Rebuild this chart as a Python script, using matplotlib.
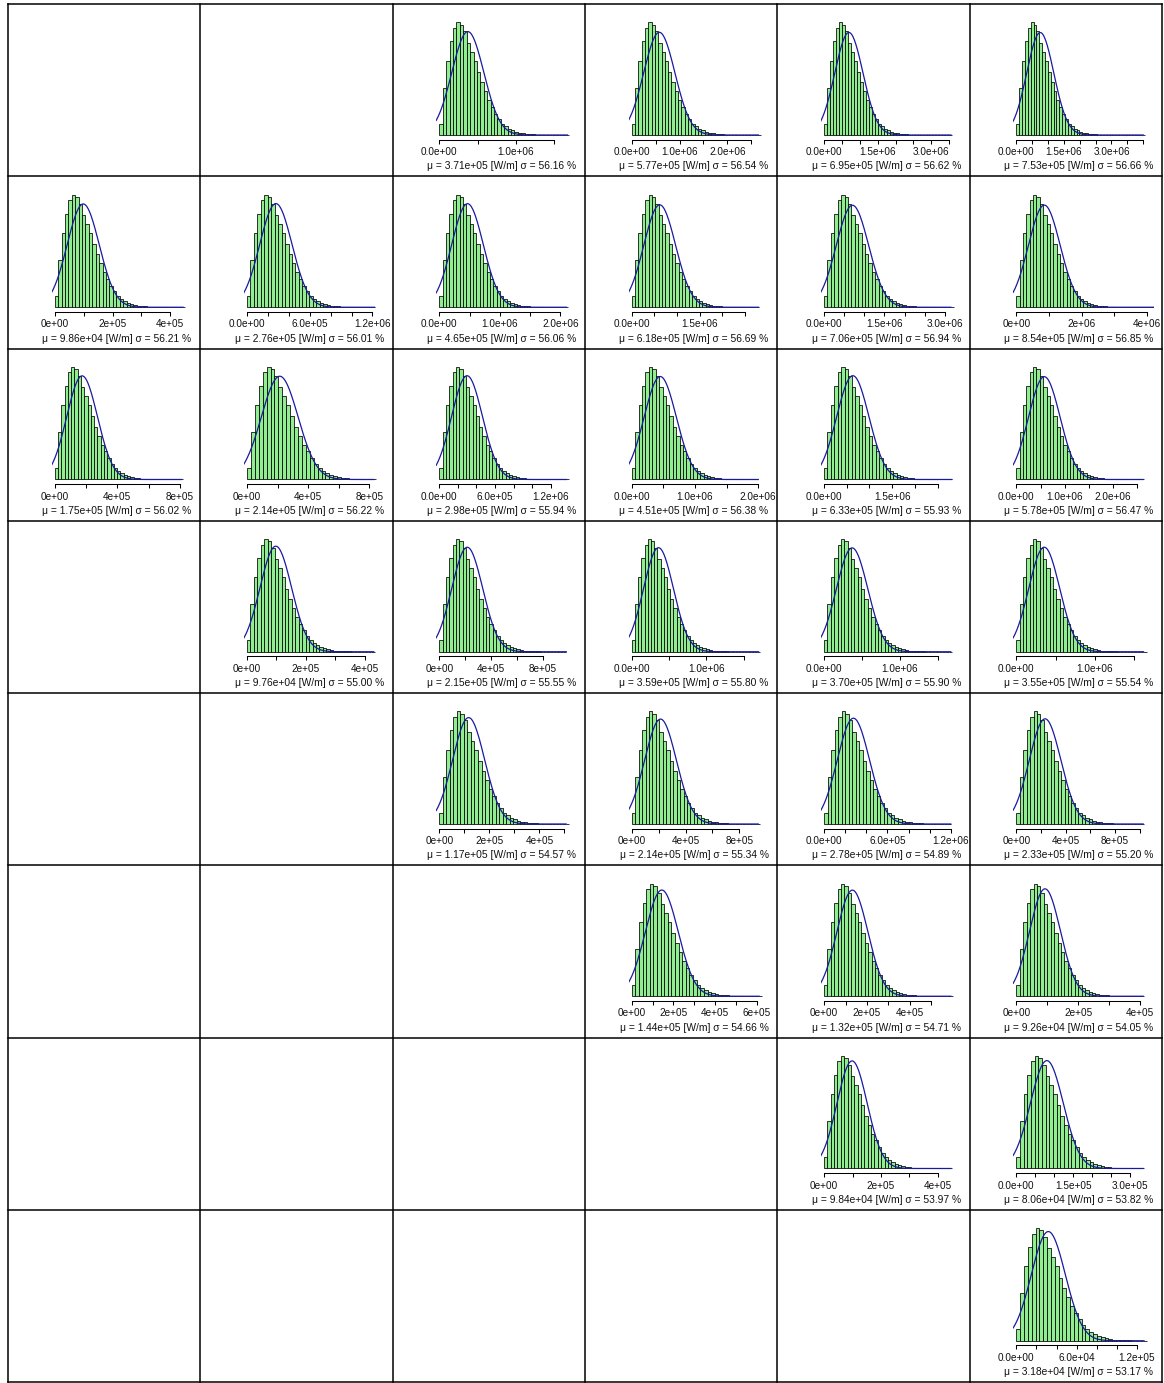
import numpy as np
import matplotlib
matplotlib.use("Agg")
import matplotlib.pyplot as plt
from matplotlib.lines import Line2D

plt.rcParams['font.family'] = ['Liberation Sans', 'DejaVu Sans']

# ---- data ----
panel_row = [0, 0, 0, 0,
             1, 1, 1, 1, 1, 1,
             2, 2, 2, 2, 2, 2,
             3, 3, 3, 3, 3,
             4, 4, 4, 4,
             5, 5, 5,
             6, 6,
             7]
panel_col = [2, 3, 4, 5,
             0, 1, 2, 3, 4, 5,
             0, 1, 2, 3, 4, 5,
             1, 2, 3, 4, 5,
             2, 3, 4, 5,
             3, 4, 5,
             4, 5,
             5]
mu = [3.71e5, 5.77e5, 6.95e5, 7.53e5,
      9.86e4, 2.76e5, 4.65e5, 6.18e5, 7.06e5, 8.54e5,
      1.75e5, 2.14e5, 2.98e5, 4.51e5, 6.33e5, 5.78e5,
      9.76e4, 2.15e5, 3.59e5, 3.70e5, 3.55e5,
      1.17e5, 2.14e5, 2.78e5, 2.33e5,
      1.44e5, 1.32e5, 9.26e4,
      9.84e4, 8.06e4,
      3.18e4]
sigma_pct = [56.16, 56.54, 56.62, 56.66,
             56.21, 56.01, 56.06, 56.69, 56.94, 56.85,
             56.02, 56.22, 55.94, 56.38, 55.93, 56.47,
             55.00, 55.55, 55.80, 55.90, 55.54,
             54.57, 55.34, 54.89, 55.20,
             54.66, 54.71, 54.05,
             53.97, 53.82,
             53.17]
# largest value of each sample (end of histogram and curve)
x_max = [1.67e6, 2.65e6, 3.55e6, 4.0e6,
         4.44e5, 1.22e6, 2.10e6, 2.80e6, 3.15e6, 4.2e6,
         8.10e5, 8.30e5, 1.37e6, 2.00e6, 2.81e6, 2.62e6,
         4.30e5, 9.80e5, 1.70e6, 1.67e6, 1.62e6,
         5.07e5, 9.40e5, 1.20e6, 1.03e6,
         6.10e5, 5.90e5, 4.10e5,
         4.45e5, 3.35e5,
         1.27e5]
# upper end of the x range of each panel
x_right = [1.79e6, 2.87e6, 3.84e6, 4.33e6,
           4.75e5, 1.314e6, 2.27e6, 3.03e6, 3.41e6, 4.2e6,
           8.77e5, 8.99e5, 1.48e6, 2.17e6, 3.02e6, 2.84e6,
           4.66e5, 1.06e6, 1.84e6, 1.81e6, 1.75e6,
           5.49e5, 1.02e6, 1.30e6, 1.115e6,
           6.57e5, 6.39e5, 4.44e5,
           4.82e5, 3.63e5,
           1.366e5]
tick_step = [5e5, 5e5, 5e5, 5e5,
             1e5, 2e5, 5e5, 5e5, 5e5, 1e6,
             2e5, 2e5, 2e5, 5e5, 5e5, 5e5,
             1e5, 2e5, 5e5, 5e5, 5e5,
             1e5, 2e5, 2e5, 2e5,
             1e5, 1e5, 1e5,
             1e5, 5e4,
             2e4]
tick_last = [1.5e6, 2.5e6, 3.5e6, 4.0e6,
             4e5, 1.2e6, 2.0e6, 2.5e6, 3.0e6, 4e6,
             8e5, 8e5, 1.2e6, 2.0e6, 2.5e6, 2.5e6,
             4e5, 8e5, 1.5e6, 1.5e6, 1.5e6,
             5e5, 8e5, 1.2e6, 1.0e6,
             6e5, 5e5, 4e5,
             4e5, 3e5,
             1.2e5]
label_skip = [2, 2, 3, 3,
              2, 3, 2, 3, 3, 2,
              2, 2, 3, 2, 3, 2,
              2, 2, 2, 2, 2,
              2, 2, 3, 2,
              2, 2, 2,
              2, 3,
              3]
# bin width as a fraction of the mean, and relative bar heights (same shape everywhere)
bin_width_rel = 0.12
bin_counts = [0.10, 0.42, 0.66, 0.83, 0.95, 1.00, 0.98, 0.92, 0.82, 0.74,
              0.66, 0.56, 0.47, 0.39, 0.31, 0.25, 0.19, 0.14, 0.10, 0.077,
              0.056, 0.042, 0.030, 0.020, 0.015, 0.010, 0.007, 0.005, 0.0035,
              0.0025, 0.0018, 0.0012, 0.0008, 0.0005, 0.0003, 0.0002, 0.00015,
              0.0001, 0.00008, 0.00006, 0.00004, 0.00003, 0.00002, 0.00001, 0.00001]

W, H = 1164, 1383
fig = plt.figure(figsize=(W / 100, H / 100), dpi=100)

x0, y0, x1, y1 = 8, 4, 1162, 1382
ncol, nrow = 6, 8
cw = (x1 - x0) / ncol
ch = (y1 - y0) / nrow

# cell borders
for i in range(ncol + 1):
    x = (x0 + i * cw) / W
    fig.add_artist(Line2D([x, x], [1 - y0 / H, 1 - y1 / H], color='black', lw=1.1))
for j in range(nrow + 1):
    y = 1 - (y0 + j * ch) / H
    fig.add_artist(Line2D([x0 / W, x1 / W], [y, y], color='black', lw=1.1))

counts_all = np.array(bin_counts)
pl, pz, pr = 43.5, 46.7, 184.0   # plot left, zero position, plot right (px in cell)

for k in range(len(mu)):
    r, c = panel_row[k], panel_col[k]
    cl = x0 + c * cw
    ct = y0 + r * ch
    ax = fig.add_axes([(cl + pl) / W, 1 - (ct + 135.5) / H, (pr - pl) / W, 121.7 / H])

    xr = x_right[k]
    xlo = -xr * (pz - pl) / (pr - pz)
    xm = x_max[k]

    width = bin_width_rel * mu[k]
    nb = min(len(counts_all), int(np.ceil(xm / width)))
    counts = counts_all[:nb]
    edges = np.arange(nb + 1) * width
    dens = counts / (counts_all.sum() * width)
    ax.bar(edges[:-1], dens, width=width, align='edge', color='#90ee90',
           edgecolor='black', linewidth=0.55)

    xs = np.linspace(xlo, xm, 300)
    sd = mu[k] * sigma_pct[k] / 100
    ys = np.exp(-0.5 * ((xs - mu[k]) / sd) ** 2) / (sd * np.sqrt(2 * np.pi))
    ax.plot(xs, ys, color='#1a1aa0', lw=0.9)

    hmax = dens.max()
    ax.set_xlim(xlo, xr)
    ax.set_ylim(-0.04 * hmax, 1.04 * hmax)

    ticks = np.arange(0, tick_last[k] + tick_step[k] / 2, tick_step[k])
    one_digit = all(abs(t / 10 ** np.floor(np.log10(t)) - round(t / 10 ** np.floor(np.log10(t)))) < 1e-6
                    for t in ticks if t > 0)
    fmt = '%.0e' if one_digit else '%.1e'
    labels = [fmt % t if i % label_skip[k] == 0 else '' for i, t in enumerate(ticks)]
    ax.set_xticks(ticks)
    ax.set_xticklabels(labels, fontsize=7.2, color='#111111')
    ax.set_yticks([])
    for s in ['top', 'right', 'left']:
        ax.spines[s].set_visible(False)
    ax.spines['bottom'].set_bounds(0, ticks[-1])
    ax.spines['bottom'].set_linewidth(0.75)
    ax.tick_params(axis='x', direction='out', length=3, width=0.75, pad=2.5)
    ax.patch.set_visible(False)

    ax.text((109 - pl) / (pr - pl), -0.22, r'μ = %.2e [W/m] σ = %.2f %%' % (mu[k], sigma_pct[k]),
            transform=ax.transAxes, ha='center', va='center', fontsize=7.4, color='#111111')

fig.savefig('out.png', dpi=100)
